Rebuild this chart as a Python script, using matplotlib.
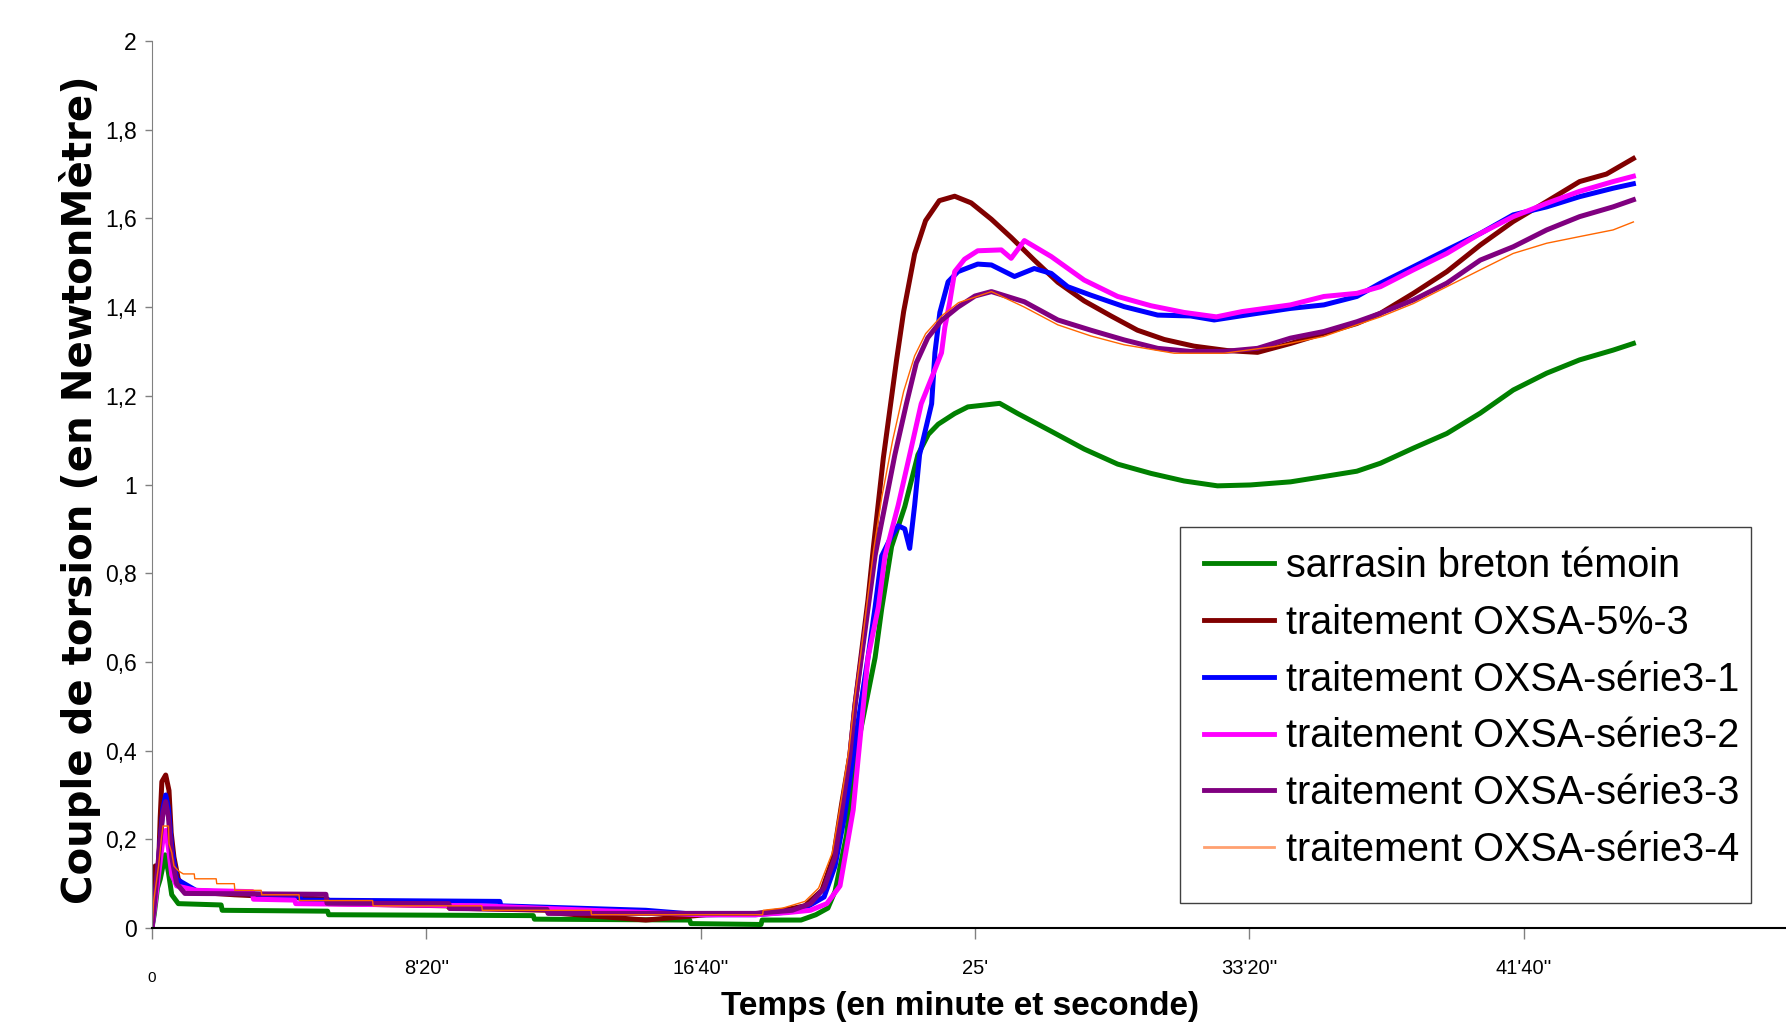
import matplotlib
matplotlib.use('Agg')
import matplotlib.pyplot as plt
import matplotlib.transforms as mtransforms
from matplotlib.patches import Rectangle

# --- data (time in seconds, torque in N.m) ---
t_green = [0, 4, 10, 15, 20, 24, 30, 36, 48, 126, 128, 320, 322, 695, 697, 980, 982, 1110, 1112, 1183, 1210,
           1232, 1245, 1266, 1281, 1318, 1330, 1348, 1372, 1396, 1415, 1433, 1463, 1487, 1545, 1578, 1639, 1699,
           1760, 1821, 1881, 1942, 2002, 2075, 2136, 2196, 2239, 2299, 2360, 2421, 2481, 2542, 2602, 2663, 2700]
v_green = [0, 0.03, 0.09, 0.11, 0.14, 0.165, 0.125, 0.075, 0.055, 0.052, 0.04, 0.038, 0.03, 0.028, 0.02, 0.018,
           0.01, 0.008, 0.018, 0.018, 0.03, 0.045, 0.083, 0.21, 0.38, 0.61, 0.72, 0.86, 0.95, 1.067, 1.113, 1.136,
           1.16, 1.175, 1.183, 1.16, 1.12, 1.08, 1.046, 1.025, 1.008, 0.997, 0.999, 1.006, 1.018, 1.03, 1.048,
           1.082, 1.115, 1.161, 1.213, 1.251, 1.281, 1.303, 1.318]

t_maroon = [0, 3, 6, 12, 15, 18, 25, 31, 35, 40, 48, 60, 90, 150, 320, 322, 540, 542, 720, 722, 900, 1010, 1100,
            1150, 1190, 1221, 1242, 1257, 1272, 1281, 1293, 1305, 1315, 1324, 1333, 1345, 1357, 1370, 1390, 1410,
            1435, 1463, 1493, 1530, 1566, 1608, 1651, 1699, 1748, 1796, 1845, 1899, 1960, 2015, 2075, 2136, 2196,
            2239, 2299, 2360, 2421, 2481, 2542, 2602, 2651, 2700]
v_maroon = [0, 0.05, 0.14, 0.14, 0.25, 0.33, 0.345, 0.31, 0.215, 0.16, 0.11, 0.092, 0.08, 0.075, 0.065, 0.055,
            0.05, 0.045, 0.04, 0.035, 0.018, 0.03, 0.032, 0.04, 0.05, 0.085, 0.16, 0.28, 0.39, 0.5, 0.62, 0.74,
            0.86, 0.96, 1.06, 1.17, 1.28, 1.39, 1.52, 1.595, 1.64, 1.65, 1.635, 1.598, 1.557, 1.506, 1.456, 1.414,
            1.38, 1.348, 1.327, 1.312, 1.302, 1.298, 1.318, 1.341, 1.363, 1.386, 1.431, 1.48, 1.54, 1.593, 1.638,
            1.683, 1.70, 1.735]

t_blue = [0, 4, 10, 15, 20, 25, 30, 36, 45, 80, 140, 270, 272, 634, 636, 900, 1000, 1100, 1150, 1190, 1225, 1245,
          1262, 1276, 1290, 1305, 1318, 1330, 1348, 1360, 1372, 1381, 1390, 1399, 1421, 1427, 1436, 1451, 1469,
          1505, 1530, 1572, 1608, 1639, 1669, 1711, 1772, 1833, 1893, 1936, 2015, 2075, 2136, 2196, 2239, 2299,
          2360, 2421, 2481, 2542, 2602, 2663, 2700]
v_blue = [0, 0.05, 0.12, 0.2, 0.27, 0.30, 0.27, 0.18, 0.11, 0.085, 0.08, 0.07, 0.063, 0.06, 0.05, 0.04, 0.03,
          0.03, 0.035, 0.045, 0.07, 0.14, 0.25, 0.37, 0.49, 0.61, 0.724, 0.839, 0.884, 0.907, 0.90, 0.856, 0.953,
          1.067, 1.182, 1.297, 1.388, 1.457, 1.48, 1.497, 1.495, 1.469, 1.487, 1.476, 1.446, 1.427, 1.401, 1.382,
          1.38, 1.371, 1.386, 1.397, 1.405, 1.424, 1.454, 1.491, 1.529, 1.566, 1.608, 1.626, 1.649, 1.668, 1.678]

t_magenta = [0, 4, 10, 15, 20, 25, 30, 36, 45, 80, 183, 185, 260, 262, 600, 1000, 1100, 1160, 1200, 1230, 1254,
             1278, 1287, 1296, 1305, 1324, 1336, 1360, 1381, 1402, 1424, 1439, 1445, 1454, 1463, 1481, 1505, 1548,
             1566, 1590, 1639, 1699, 1760, 1821, 1881, 1940, 1987, 2075, 2136, 2196, 2239, 2299, 2360, 2421, 2481,
             2542, 2602, 2663, 2700]
v_magenta = [0, 0.04, 0.1, 0.15, 0.2, 0.22, 0.18, 0.12, 0.095, 0.085, 0.082, 0.065, 0.063, 0.055, 0.05, 0.03,
             0.03, 0.035, 0.04, 0.055, 0.095, 0.266, 0.381, 0.495, 0.61, 0.724, 0.839, 0.953, 1.067, 1.182, 1.25,
             1.297, 1.354, 1.411, 1.48, 1.508, 1.527, 1.529, 1.51, 1.55, 1.514, 1.461, 1.424, 1.403, 1.388, 1.378,
             1.39, 1.405, 1.424, 1.431, 1.446, 1.484, 1.521, 1.566, 1.604, 1.634, 1.661, 1.683, 1.695]

t_purple = [0, 4, 10, 15, 20, 25, 30, 36, 45, 60, 317, 319, 541, 543, 720, 722, 1100, 1167, 1200, 1225, 1245,
            1258, 1272, 1281, 1293, 1305, 1318, 1336, 1354, 1375, 1393, 1414, 1439, 1469, 1500, 1530, 1590, 1651,
            1711, 1772, 1833, 1893, 1954, 2015, 2075, 2136, 2196, 2239, 2299, 2360, 2421, 2481, 2542, 2602, 2663,
            2700]
v_purple = [0, 0.05, 0.13, 0.2, 0.26, 0.285, 0.25, 0.16, 0.1, 0.078, 0.076, 0.056, 0.055, 0.044, 0.042, 0.033,
            0.033, 0.04, 0.055, 0.09, 0.16, 0.27, 0.39, 0.5, 0.61, 0.72, 0.84, 0.953, 1.067, 1.182, 1.274, 1.331,
            1.37, 1.40, 1.425, 1.435, 1.412, 1.371, 1.348, 1.326, 1.307, 1.30, 1.30, 1.307, 1.33, 1.345, 1.367,
            1.386, 1.416, 1.454, 1.506, 1.536, 1.574, 1.604, 1.626, 1.642]

# série3-4 is recorded in coarse steps at the start
t_orange = [0, 3, 12, 17, 20, 30, 31, 36, 40, 48, 57, 77, 78, 117, 118, 150, 151, 199, 200, 268, 269, 402, 403,
            601, 602, 800, 801, 1113, 1114, 1150, 1190, 1215, 1240, 1255, 1270, 1280, 1292, 1303, 1315, 1330, 1350,
            1370, 1390, 1410, 1439, 1470, 1530, 1590, 1651, 1711, 1772, 1863, 1954, 2045, 2136, 2196, 2239, 2299,
            2360, 2421, 2481, 2542, 2602, 2663, 2700]
v_orange = [0, 0.06, 0.14, 0.2, 0.23, 0.23, 0.19, 0.17, 0.14, 0.129, 0.122, 0.122, 0.111, 0.111, 0.10, 0.10,
            0.085, 0.085, 0.075, 0.075, 0.062, 0.062, 0.05, 0.05, 0.04, 0.04, 0.03, 0.03, 0.04, 0.045, 0.06, 0.09,
            0.17, 0.28, 0.40, 0.51, 0.62, 0.73, 0.85, 0.97, 1.1, 1.21, 1.29, 1.34, 1.38, 1.41, 1.435, 1.40, 1.36,
            1.335, 1.315, 1.296, 1.296, 1.311, 1.334, 1.36, 1.378, 1.408, 1.446, 1.484, 1.521, 1.544, 1.559, 1.574,
            1.592]

labels = ['sarrasin breton témoin', 'traitement OXSA-5%-3', 'traitement OXSA-série3-1',
          'traitement OXSA-série3-2', 'traitement OXSA-série3-3', 'traitement OXSA-série3-4']
x_ticks = [0, 500, 1000, 1500, 2000, 2500, 3000]
x_tick_labels = ['0', "8'20''", "16'40''", "25'", "33'20''", "41'40''", "50'"]
y_ticks = [0, 0.2, 0.4, 0.6, 0.8, 1.0, 1.2, 1.4, 1.6, 1.8, 2.0]
y_tick_labels = ['0', '0,2', '0,4', '0,6', '0,8', '1', '1,2', '1,4', '1,6', '1,8', '2']

arial = ['Liberation Sans', 'DejaVu Sans']

fig = plt.figure(figsize=(17.86, 10.30), dpi=100)
ax = fig.add_axes([0.0851, 0.0990, 0.9216, 0.8612])

ax.plot(t_green, v_green, color='#008000', lw=3.6, label=labels[0])
ax.plot(t_maroon, v_maroon, color='#800000', lw=3.6, label=labels[1])
ax.plot(t_blue, v_blue, color='#0000FF', lw=3.6, label=labels[2])
ax.plot(t_magenta, v_magenta, color='#FF00FF', lw=3.6, label=labels[3])
ax.plot(t_purple, v_purple, color='#800080', lw=3.6, label=labels[4])
ax.plot(t_orange, v_orange, color='#FF6600', lw=1.0, label=labels[5])

ax.set_xlim(0, 3000)
ax.set_ylim(0, 2)
ax.set_xticks(x_ticks)
ax.set_xticklabels(x_tick_labels, family=arial, fontsize=14.5)
ax.set_yticks(y_ticks)
ax.set_yticklabels(y_tick_labels, family=arial, fontsize=16.5)
ax.tick_params(axis='x', direction='out', length=8, width=1, color='#808080', pad=14)
ax.tick_params(axis='y', direction='out', length=5, width=1, color='#808080', pad=6)

# the "0" under the x axis is smaller and sits a bit lower
lbl0 = ax.get_xticklabels()[0]
lbl0.set_fontsize(11)
lbl0.set_transform(lbl0.get_transform() + mtransforms.ScaledTranslation(0, -9 / 72, fig.dpi_scale_trans))

for side in ['top', 'right']:
    ax.spines[side].set_visible(False)
ax.spines['left'].set_color('#808080')
ax.spines['bottom'].set_color('black')
ax.spines['bottom'].set_linewidth(1.5)

ax.set_xlabel('Temps (en minute et seconde)', family=arial, fontweight='bold', fontsize=24, va='center')
ax.xaxis.set_label_coords(0.491, -0.089)
ax.set_ylabel('Couple de torsion (en NewtonMètre)', family='DejaVu Sans', fontweight='bold', fontsize=29,
              va='center')
ax.yaxis.set_label_coords(-0.044, 0.494)

# legend entries without frame, the box is drawn separately (it is padded unevenly)
leg = ax.legend(loc='upper left', bbox_to_anchor=(1204 / 1786, 1 - 547 / 1030), bbox_transform=fig.transFigure,
                prop={'family': arial, 'size': 28.5}, frameon=False, borderaxespad=0,
                borderpad=0, labelspacing=0.475, handlelength=1.78, handletextpad=0.3)
for line in leg.get_lines():
    line.set_linewidth(3.5)
leg.get_lines()[5].set_linewidth(2.0)
leg.get_lines()[5].set_color('#FFA070')

box = Rectangle((1180 / 1786, 1 - 903 / 1030), (1751 - 1180) / 1786, (903 - 527) / 1030,
                transform=fig.transFigure, fill=False, edgecolor='#404040', linewidth=1.0)
fig.add_artist(box)

fig.savefig('out.png', dpi=100)
